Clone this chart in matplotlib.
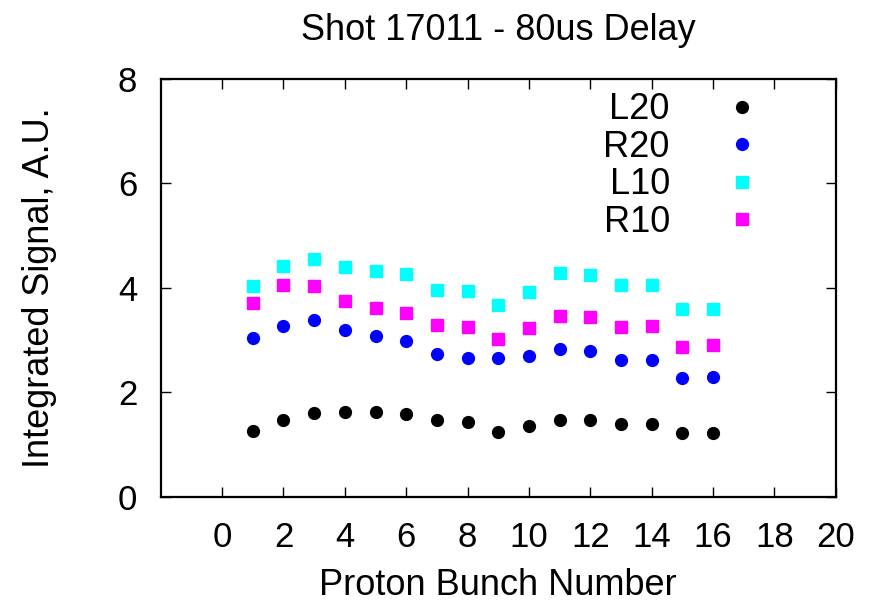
import matplotlib
matplotlib.use("Agg")
import matplotlib.pyplot as plt
import numpy as np

plt.rcParams['font.family'] = ['Liberation Sans', 'DejaVu Sans']

bunch = np.arange(1, 17)
l20 = [1.27, 1.48, 1.61, 1.63, 1.62, 1.58, 1.47, 1.44, 1.25, 1.36, 1.47, 1.47, 1.40, 1.40, 1.23, 1.22]
r20 = [3.04, 3.27, 3.39, 3.19, 3.08, 2.98, 2.74, 2.66, 2.66, 2.69, 2.84, 2.79, 2.62, 2.62, 2.27, 2.29]
l10 = [4.03, 4.43, 4.56, 4.41, 4.33, 4.26, 3.97, 3.95, 3.68, 3.93, 4.28, 4.25, 4.05, 4.06, 3.59, 3.59]
r10 = [3.72, 4.06, 4.04, 3.76, 3.61, 3.52, 3.30, 3.26, 3.03, 3.24, 3.47, 3.44, 3.26, 3.28, 2.88, 2.90]

xticks = list(range(0, 21, 2))
yticks = [0, 2, 4, 6, 8]

fig = plt.figure(figsize=(8.76, 6.05), dpi=100)
ax = fig.add_axes([0.1835, 0.1785, 0.7705, 0.691])

ax.plot(bunch, l20, 'o', color='black', ms=8.5, label='L20')
ax.plot(bunch, r20, 'o', color='blue', ms=8.5, label='R20')
ax.plot(bunch, l10, 's', color='cyan', ms=8.5, label='L10')
ax.plot(bunch, r10, 's', color='magenta', ms=8.5, label='R10')

ax.set_xlim(-2, 20)
ax.set_ylim(0, 8)
ax.set_xticks(xticks)
ax.set_yticks(yticks)
ax.tick_params(direction='in', length=7.5, width=1.0, top=True, right=True,
               labelsize=25)
ax.tick_params(axis='x', pad=17.5)
ax.tick_params(axis='y', pad=17)
for s in ax.spines.values():
    s.set_linewidth(1.6)

ax.set_title('Shot 17011 - 80us Delay', fontsize=26, pad=28)
ax.set_xlabel('Proton Bunch Number', fontsize=26, labelpad=10)
ax.set_ylabel('Integrated Signal, A.U.', fontsize=26, labelpad=44)

ax.legend(loc='upper right', bbox_to_anchor=(0.888, 0.968), frameon=False,
          markerfirst=False, fontsize=26, handletextpad=1.5,
          labelspacing=0.07, handlelength=1.0, borderpad=0, borderaxespad=0)

fig.savefig('out.png', dpi=100)
